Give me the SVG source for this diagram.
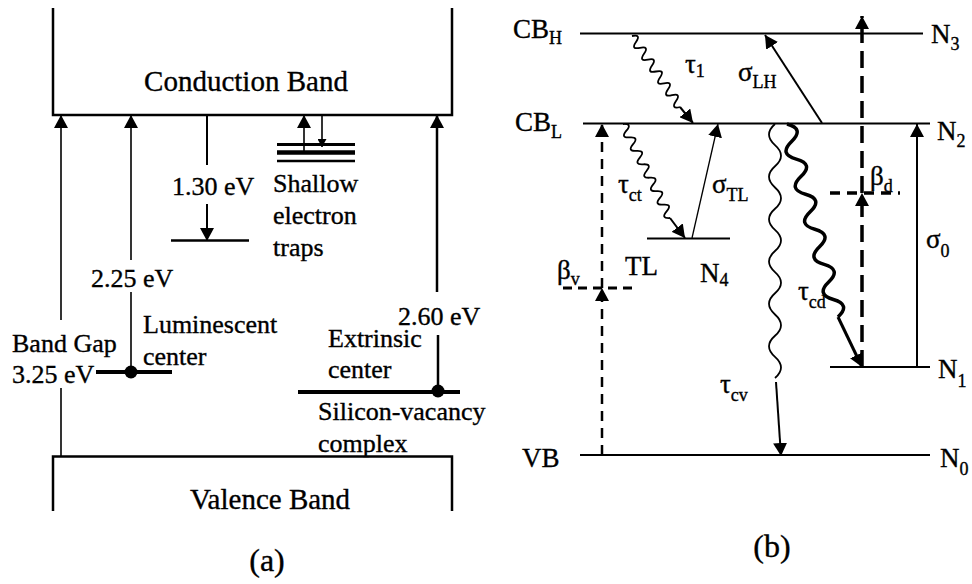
<svg xmlns="http://www.w3.org/2000/svg" width="972" height="584" viewBox="0 0 972 584" font-family="'Liberation Serif', 'Times New Roman', serif">
<style>
text{font-family:"Liberation Serif","Times New Roman",serif;fill:#000;stroke:#000;stroke-width:0.35}
.lbl{font-size:26px}
.big{font-size:29px}
.cap{font-size:32px}
.r{font-size:27px}
.s{font-size:18px}
.ln{stroke:#000;fill:none}
</style>
<defs>
<marker id="ah" viewBox="0 0 13 14" refX="13" refY="7" markerWidth="13" markerHeight="14" markerUnits="userSpaceOnUse" orient="auto"><path d="M0,0 L13,7 L0,14 z" fill="#000"/></marker>
<marker id="ahs" viewBox="0 0 8 9" refX="8" refY="4.5" markerWidth="8" markerHeight="9" markerUnits="userSpaceOnUse" orient="auto"><path d="M0,0 L8,4.5 L0,9 z" fill="#000"/></marker>
</defs>
<rect width="972" height="584" fill="#fff"/>

<!-- Panel (a) -->
<g id="conduction-band">
<path class="ln" stroke-width="2.5" d="M53,8 V115 H452 V8"/>
<text class="big" x="246" y="91" text-anchor="middle">Conduction Band</text>
</g>
<g id="valence-band">
<path class="ln" stroke-width="2.5" d="M53,511 V456.5 H452 V511"/>
<text class="big" x="270" y="509" text-anchor="middle">Valence Band</text>
</g>
<g id="shallow-traps">
<line class="ln" x1="277" y1="144.5" x2="355" y2="144.5" stroke-width="3"/>
<line class="ln" x1="277" y1="152.5" x2="355" y2="152.5" stroke-width="4.5"/>
<line class="ln" x1="277" y1="161" x2="355" y2="161" stroke-width="2.5"/>
<text class="lbl" x="273" y="192">Shallow</text>
<text class="lbl" x="273" y="224">electron</text>
<text class="lbl" x="273" y="256">traps</text>
</g>
<g id="level-130">
<line class="ln" x1="171" y1="240.5" x2="249" y2="240.5" stroke-width="2.5"/>
<text class="lbl" x="172" y="195">1.30 eV</text>
</g>
<g id="luminescent-center">
<line class="ln" x1="96" y1="372" x2="172" y2="372" stroke-width="4"/>
<circle cx="131" cy="372" r="6.5"/>
<text class="lbl" x="143" y="333">Luminescent</text>
<text class="lbl" x="143" y="365">center</text>
</g>
<g id="extrinsic-center">
<line class="ln" x1="298" y1="392" x2="460" y2="392" stroke-width="4"/>
<circle cx="438" cy="391" r="6.5"/>
<text class="lbl" x="328" y="347">Extrinsic</text>
<text class="lbl" x="328" y="378">center</text>
<text class="lbl" x="318" y="420">Silicon-vacancy</text>
<text class="lbl" x="318" y="452">complex</text>
</g>
<g id="labels-a">
<text class="lbl" x="12" y="352">Band Gap</text>
<text class="lbl" x="12" y="383">3.25 eV</text>
<text class="lbl" x="91" y="287">2.25 eV</text>
<text class="lbl" x="398" y="325">2.60 eV</text>
<text class="cap" x="267" y="571" text-anchor="middle">(a)</text>
</g>

<!-- Panel (b) -->
<g id="CBH">
<line class="ln" x1="580" y1="33.5" x2="923" y2="33.5" stroke-width="2"/>
<text class="r" x="513" y="38">CB<tspan class="s" dy="6">H</tspan></text>
<text class="r" x="931" y="43">N<tspan class="s" dy="7">3</tspan></text>
</g>
<g id="CBL">
<line class="ln" x1="583" y1="123.5" x2="930" y2="123.5" stroke-width="2"/>
<text class="r" x="515" y="131">CB<tspan class="s" dy="7">L</tspan></text>
<text class="r" x="937" y="140">N<tspan class="s" dy="7">2</tspan></text>
</g>
<g id="TL">
<line class="ln" x1="647" y1="238.5" x2="730" y2="238.5" stroke-width="2"/>
<text class="r" x="625" y="275">TL</text>
<text class="r" x="700" y="282">N<tspan class="s" dy="4">4</tspan></text>
</g>
<g id="N1-level">
<line class="ln" x1="830" y1="367" x2="930" y2="367" stroke-width="2"/>
<text class="r" x="938" y="378">N<tspan class="s" dy="9">1</tspan></text>
</g>
<g id="VB">
<line class="ln" x1="580" y1="455" x2="930" y2="455" stroke-width="2"/>
<text class="r" x="522" y="467">VB</text>
<text class="r" x="940" y="467">N<tspan class="s" dy="8">0</tspan></text>
</g>
<g id="labels-b">
<text class="r" x="685" y="73">τ<tspan class="s" dy="4">1</tspan></text>
<text class="r" x="738" y="81">σ<tspan class="s" dy="7">LH</tspan></text>
<text class="r" x="618" y="193">τ<tspan class="s" dy="8">ct</tspan></text>
<text class="r" x="712" y="193">σ<tspan class="s" dy="8">TL</tspan></text>
<text class="r" x="557" y="279">β<tspan class="s" dy="6">v</tspan></text>
<text class="r" x="870" y="185">β<tspan class="s" dy="7">d</tspan></text>
<text class="r" x="926" y="248">σ<tspan class="s" dy="9">0</tspan></text>
<text class="r" x="798" y="300">τ<tspan class="s" dy="8">cd</tspan></text>
<text class="r" x="720" y="393">τ<tspan class="s" dy="8">cv</tspan></text>
<text class="cap" x="772" y="557" text-anchor="middle">(b)</text>
</g>

<g id="connectors">
<!-- panel a -->
<line class="ln" x1="61" y1="320" x2="61" y2="115" stroke-width="1.6" marker-end="url(#ah)"/>
<line class="ln" x1="61" y1="388" x2="61" y2="457" stroke-width="1.6"/>
<line class="ln" x1="131" y1="260" x2="131" y2="115" stroke-width="1.6" marker-end="url(#ah)"/>
<line class="ln" x1="131" y1="292" x2="131" y2="372" stroke-width="1.6"/>
<line class="ln" x1="207" y1="115" x2="207" y2="165" stroke-width="2"/>
<line class="ln" x1="207" y1="204" x2="207" y2="241" stroke-width="2" marker-end="url(#ah)"/>
<line class="ln" x1="304" y1="152" x2="304" y2="115" stroke-width="1.6" marker-end="url(#ah)"/>
<line class="ln" x1="322" y1="115" x2="322" y2="147" stroke-width="1.6" marker-end="url(#ahs)"/>
<line class="ln" x1="437" y1="292" x2="437" y2="115" stroke-width="2.5" marker-end="url(#ah)"/>
<line class="ln" x1="438" y1="335" x2="438" y2="390" stroke-width="2.5"/>
<!-- panel b -->
<path class="ln" stroke-width="1.8" d="M632,36 Q641.5,33.9 636,41.9 T640,47.8 T644,53.8 T648,59.7 T652,65.6 T656,71.5 T660,77.4 T664,83.3 T668,89.3 T672,95.2 T676,101.1 T680,107"/>
<line class="ln" x1="680" y1="107" x2="693" y2="123" stroke-width="2" marker-end="url(#ah)"/>
<line class="ln" x1="822" y1="123" x2="765" y2="35" stroke-width="2" marker-end="url(#ah)"/>
<path class="ln" stroke-width="1.8" d="M623,124 Q632.7,123.3 626.4,130.7 T629.7,137.4 T633.1,144.1 T636.4,150.9 T639.8,157.6 T643.1,164.3 T646.5,171 T649.9,177.7 T653.2,184.4 T656.6,191.1 T659.9,197.9 T663.3,204.6 T666.6,211.3 T670,218"/>
<line class="ln" x1="670" y1="218" x2="685" y2="238" stroke-width="2" marker-end="url(#ah)"/>
<line class="ln" x1="692" y1="238" x2="718" y2="124" stroke-width="1.3" marker-end="url(#ah)"/>
<path class="ln" stroke-width="1.8" d="M775,124 Q763,134.6 775,145.2 T775,166.3 T775,187.5 T775,208.7 T775,229.8 T775,251 T775,272.2 T775,293.3 T775,314.5 T775,335.7 T775,356.8 T775,378"/>
<line class="ln" x1="776" y1="382" x2="781" y2="456" stroke-width="2" marker-end="url(#ah)"/>
<path class="ln" stroke-width="3.5" stroke-linejoin="round" d="M787,124 Q804.8,128.7 791.6,141.5 T796.3,159.1 T800.9,176.6 T805.5,194.2 T810.2,211.7 T814.8,229.3 T819.5,246.8 T824.1,264.4 T828.7,281.9 T833.4,299.5 T838,317"/>
<line class="ln" x1="838" y1="317" x2="862" y2="367" stroke-width="3" marker-end="url(#ah)"/>
<line class="ln" x1="917" y1="367" x2="917" y2="124" stroke-width="2" marker-end="url(#ah)"/>
<line class="ln" x1="602" y1="455" x2="602" y2="288" stroke-width="2.5" stroke-dasharray="10,7" marker-end="url(#ah)"/>
<line class="ln" x1="602" y1="288" x2="602" y2="124" stroke-width="2.5" stroke-dasharray="10,7" marker-end="url(#ah)"/>
<line class="ln" x1="563" y1="288" x2="633" y2="288" stroke-width="3" stroke-dasharray="9,6"/>
<line class="ln" x1="862" y1="367" x2="862" y2="193" stroke-width="3.5" stroke-dasharray="17,8" marker-end="url(#ah)"/>
<line class="ln" x1="862" y1="193" x2="862" y2="16" stroke-width="3.5" stroke-dasharray="17,8" marker-end="url(#ah)"/>
<line class="ln" x1="830" y1="193" x2="900" y2="193" stroke-width="3.5" stroke-dasharray="10,7"/>
</g>
</svg>
